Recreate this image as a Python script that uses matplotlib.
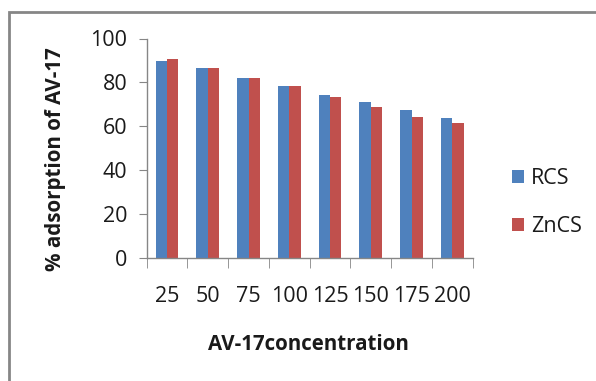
import matplotlib
matplotlib.use("Agg")
import matplotlib.pyplot as plt
import numpy as np
from matplotlib.patches import Rectangle

categories = ["25", "50", "75", "100", "125", "150", "175", "200"]
rcs = [89.6, 86.4, 82.1, 78.5, 74.4, 71.2, 67.4, 63.7]
zncs = [90.7, 86.4, 82.1, 78.5, 73.3, 68.6, 64.3, 61.7]
yticks = [0, 20, 40, 60, 80, 100]

plt.rcParams['font.family'] = ['Open Sans', 'DejaVu Sans']
W, H = 596, 381
fig = plt.figure(figsize=(W / 100, H / 100), dpi=100)
fig.patch.set_facecolor('white')

def fx(px):
    return px / W

def fy(py):
    return 1 - py / H

ax = fig.add_axes([fx(146.7), fy(258), fx(472.7) - fx(146.7), fy(38.5) - fy(258)])

x = np.arange(len(categories))
bw = 0.278
ax.bar(x - bw / 2, rcs, bw, color='#4F81BD', label='RCS')
ax.bar(x + bw / 2, zncs, bw, color='#C0504D', label='ZnCS')

ax.set_xlim(-0.5, len(categories) - 0.5)
ax.set_ylim(0, 100)
ax.set_yticks(yticks)
ax.set_yticklabels([str(v) for v in yticks])
ax.set_xticks(x)
ax.set_xticklabels(categories)
ax.set_xticks(np.arange(-0.5, len(categories), 1), minor=True)

axis_col = '#868686'
for s in ['top', 'right']:
    ax.spines[s].set_visible(False)
for s in ['left', 'bottom']:
    ax.spines[s].set_color(axis_col)
    ax.spines[s].set_linewidth(1.0)

fs = 15.5
ax.tick_params(axis='y', which='major', length=6, color=axis_col, labelsize=fs,
               labelcolor='#1a1a1a', pad=8)
ax.tick_params(axis='x', which='major', length=0, labelsize=fs,
               labelcolor='#1a1a1a', pad=20)
ax.tick_params(axis='x', which='minor', length=7, color=axis_col, direction='out')

fs_lab = 14.8
fig.text(fx(308), fy(345), "AV-17concentration", ha='center', va='center',
         fontsize=fs_lab, fontweight='bold', color='#1a1a1a')
fig.text(fx(55), fy(159), "% adsorption of AV-17", ha='center', va='center',
         rotation=90, fontsize=fs_lab, fontweight='bold', color='#1a1a1a')

leg = fig.legend(loc='upper left', bbox_to_anchor=(fx(511.7), fy(168)),
                 frameon=False, fontsize=fs, handlelength=0.55, handleheight=0.55,
                 handletextpad=0.35, labelspacing=1.25, borderpad=0, borderaxespad=0)
for t in leg.get_texts():
    t.set_color('#1a1a1a')

fig.patches.append(Rectangle((fx(9), -0.2), 1.2, fy(12) + 0.2, transform=fig.transFigure,
                             fill=False, edgecolor='#868686', linewidth=2.0))

fig.savefig("out.png", dpi=100, facecolor='white')
